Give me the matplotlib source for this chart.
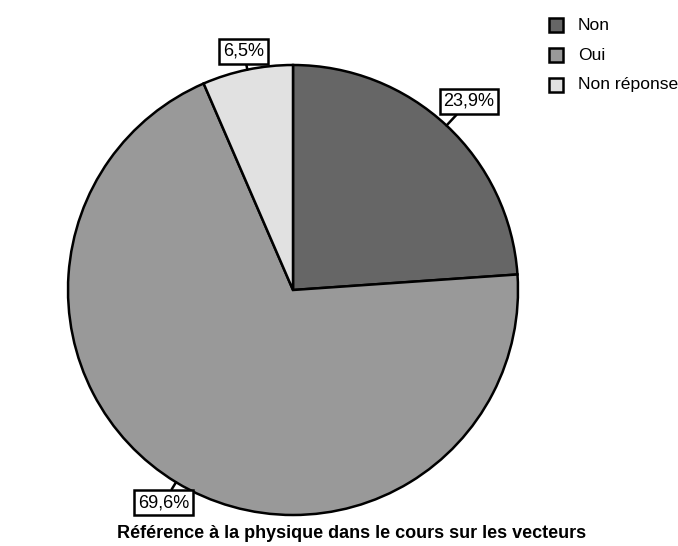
import numpy as np
import matplotlib
matplotlib.use("Agg")
import matplotlib.pyplot as plt
from matplotlib.patches import Rectangle

plt.rcParams['font.family'] = ['Liberation Sans', 'DejaVu Sans']

categories = ["Non", "Oui", "Non réponse"]
percentages = [23.9, 69.6, 6.5]
colors = ["#666666", "#999999", "#e1e1e1"]
title = "Référence à la physique dans le cours sur les vecteurs"

W, H = 678, 546
fig = plt.figure(figsize=(W / 100, H / 100), dpi=100)
ax = fig.add_axes([0, 0, 1, 1])

cx, cy, R = 293, H - 290, 225
wedges, _ = ax.pie(percentages, colors=colors, startangle=90, counterclock=False,
                   center=(cx, cy), radius=R, frame=True,
                   wedgeprops=dict(edgecolor='black', linewidth=1.8))
ax.set_xlim(0, W)
ax.set_ylim(0, H)
ax.set_aspect('equal')
ax.axis('off')

# label distance beyond the rim for each slice
label_gap = [33, 24, 19]
for w, p, gap in zip(wedges, percentages, label_gap):
    mid = np.deg2rad((w.theta1 + w.theta2) / 2)
    ex, ey = cx + R * np.cos(mid), cy + R * np.sin(mid)
    tx, ty = cx + (R + gap) * np.cos(mid), cy + (R + gap) * np.sin(mid)
    txt = f"{p:.1f}%".replace('.', ',')
    ax.annotate(txt, xy=(ex, ey), xytext=(tx, ty), ha='center', va='center',
                fontsize=13,
                bbox=dict(boxstyle='square,pad=0.22', fc='white', ec='black', lw=1.8),
                arrowprops=dict(arrowstyle='-', color='black', lw=1.8,
                                shrinkA=0, shrinkB=0))

# legend
for i, (cat, col) in enumerate(zip(categories, colors)):
    y = H - (25 + 30 * i)
    ax.add_patch(Rectangle((549, y - 7), 14, 14, facecolor=col,
                           edgecolor='black', lw=1.8))
    ax.text(578, y, cat, fontsize=12.6, va='center', ha='left')

fig.text(117 / W, 1 - 533 / H, title, fontsize=13, fontweight='bold',
         ha='left', va='center')

fig.savefig("out.png", dpi=100)
